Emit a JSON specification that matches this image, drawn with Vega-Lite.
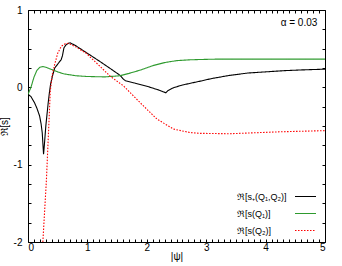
{
  "$schema": "https://vega.github.io/schema/vega-lite/v6.json",
  "width": 297,
  "height": 232,
  "autosize": {"type": "none"},
  "padding": {"left": 28, "top": 10, "right": 17, "bottom": 24},
  "background": "white",
  "config": {
    "view": {"stroke": "black", "strokeWidth": 1},
    "font": "Liberation Sans",
    "axis": {"domain": false, "grid": false, "ticks": true, "tickColor": "black", "tickSize": -3, "labelFont": "Liberation Sans", "labelFontSize": 10, "labelColor": "black", "titleFont": "Liberation Sans", "titleFontSize": 10, "titleFontWeight": "normal", "titleColor": "black"}
  },
  "datasets": {
    "curves": [
      {"s": "ℜ[s₊(Q₁,Q₂)]", "x": 0.0, "y": -0.09},
      {"s": "ℜ[s₊(Q₁,Q₂)]", "x": 0.05, "y": -0.12},
      {"s": "ℜ[s₊(Q₁,Q₂)]", "x": 0.11, "y": -0.2},
      {"s": "ℜ[s₊(Q₁,Q₂)]", "x": 0.15, "y": -0.27},
      {"s": "ℜ[s₊(Q₁,Q₂)]", "x": 0.195, "y": -0.37},
      {"s": "ℜ[s₊(Q₁,Q₂)]", "x": 0.22, "y": -0.47},
      {"s": "ℜ[s₊(Q₁,Q₂)]", "x": 0.24, "y": -0.59},
      {"s": "ℜ[s₊(Q₁,Q₂)]", "x": 0.255, "y": -0.78},
      {"s": "ℜ[s₊(Q₁,Q₂)]", "x": 0.262, "y": -0.865},
      {"s": "ℜ[s₊(Q₁,Q₂)]", "x": 0.275, "y": -0.75},
      {"s": "ℜ[s₊(Q₁,Q₂)]", "x": 0.3, "y": -0.5},
      {"s": "ℜ[s₊(Q₁,Q₂)]", "x": 0.34, "y": -0.2},
      {"s": "ℜ[s₊(Q₁,Q₂)]", "x": 0.36, "y": -0.07},
      {"s": "ℜ[s₊(Q₁,Q₂)]", "x": 0.38, "y": 0.04},
      {"s": "ℜ[s₊(Q₁,Q₂)]", "x": 0.41, "y": 0.14},
      {"s": "ℜ[s₊(Q₁,Q₂)]", "x": 0.45, "y": 0.25},
      {"s": "ℜ[s₊(Q₁,Q₂)]", "x": 0.5, "y": 0.3},
      {"s": "ℜ[s₊(Q₁,Q₂)]", "x": 0.56, "y": 0.36},
      {"s": "ℜ[s₊(Q₁,Q₂)]", "x": 0.58, "y": 0.41},
      {"s": "ℜ[s₊(Q₁,Q₂)]", "x": 0.605, "y": 0.51},
      {"s": "ℜ[s₊(Q₁,Q₂)]", "x": 0.64, "y": 0.55},
      {"s": "ℜ[s₊(Q₁,Q₂)]", "x": 0.68, "y": 0.57},
      {"s": "ℜ[s₊(Q₁,Q₂)]", "x": 0.71, "y": 0.575},
      {"s": "ℜ[s₊(Q₁,Q₂)]", "x": 0.8, "y": 0.54},
      {"s": "ℜ[s₊(Q₁,Q₂)]", "x": 1.0, "y": 0.44},
      {"s": "ℜ[s₊(Q₁,Q₂)]", "x": 1.2, "y": 0.34},
      {"s": "ℜ[s₊(Q₁,Q₂)]", "x": 1.4, "y": 0.235},
      {"s": "ℜ[s₊(Q₁,Q₂)]", "x": 1.55, "y": 0.155},
      {"s": "ℜ[s₊(Q₁,Q₂)]", "x": 1.6, "y": 0.11},
      {"s": "ℜ[s₊(Q₁,Q₂)]", "x": 1.64, "y": 0.085},
      {"s": "ℜ[s₊(Q₁,Q₂)]", "x": 1.8, "y": 0.055},
      {"s": "ℜ[s₊(Q₁,Q₂)]", "x": 2.0, "y": 0.015},
      {"s": "ℜ[s₊(Q₁,Q₂)]", "x": 2.2, "y": -0.035},
      {"s": "ℜ[s₊(Q₁,Q₂)]", "x": 2.32, "y": -0.07},
      {"s": "ℜ[s₊(Q₁,Q₂)]", "x": 2.36, "y": -0.04},
      {"s": "ℜ[s₊(Q₁,Q₂)]", "x": 2.45, "y": -0.005},
      {"s": "ℜ[s₊(Q₁,Q₂)]", "x": 2.6, "y": 0.03},
      {"s": "ℜ[s₊(Q₁,Q₂)]", "x": 2.9, "y": 0.08},
      {"s": "ℜ[s₊(Q₁,Q₂)]", "x": 3.1, "y": 0.115},
      {"s": "ℜ[s₊(Q₁,Q₂)]", "x": 3.4, "y": 0.155},
      {"s": "ℜ[s₊(Q₁,Q₂)]", "x": 3.7, "y": 0.185},
      {"s": "ℜ[s₊(Q₁,Q₂)]", "x": 4.0, "y": 0.2},
      {"s": "ℜ[s₊(Q₁,Q₂)]", "x": 4.3, "y": 0.215},
      {"s": "ℜ[s₊(Q₁,Q₂)]", "x": 4.6, "y": 0.225},
      {"s": "ℜ[s₊(Q₁,Q₂)]", "x": 5.0, "y": 0.235},
      {"s": "ℜ[s(Q₁)]", "x": 0.0, "y": -0.09},
      {"s": "ℜ[s(Q₁)]", "x": 0.05, "y": 0.0},
      {"s": "ℜ[s(Q₁)]", "x": 0.1, "y": 0.13},
      {"s": "ℜ[s(Q₁)]", "x": 0.15, "y": 0.22},
      {"s": "ℜ[s(Q₁)]", "x": 0.2, "y": 0.26},
      {"s": "ℜ[s(Q₁)]", "x": 0.25, "y": 0.27},
      {"s": "ℜ[s(Q₁)]", "x": 0.3, "y": 0.26},
      {"s": "ℜ[s(Q₁)]", "x": 0.4, "y": 0.23},
      {"s": "ℜ[s(Q₁)]", "x": 0.5, "y": 0.2},
      {"s": "ℜ[s(Q₁)]", "x": 0.6, "y": 0.175},
      {"s": "ℜ[s(Q₁)]", "x": 0.8, "y": 0.15},
      {"s": "ℜ[s(Q₁)]", "x": 1.0, "y": 0.14},
      {"s": "ℜ[s(Q₁)]", "x": 1.3, "y": 0.135},
      {"s": "ℜ[s(Q₁)]", "x": 1.55, "y": 0.15},
      {"s": "ℜ[s(Q₁)]", "x": 1.7, "y": 0.18},
      {"s": "ℜ[s(Q₁)]", "x": 1.9, "y": 0.225},
      {"s": "ℜ[s(Q₁)]", "x": 2.1, "y": 0.28},
      {"s": "ℜ[s(Q₁)]", "x": 2.3, "y": 0.32},
      {"s": "ℜ[s(Q₁)]", "x": 2.5, "y": 0.345},
      {"s": "ℜ[s(Q₁)]", "x": 2.7, "y": 0.355},
      {"s": "ℜ[s(Q₁)]", "x": 2.9, "y": 0.36},
      {"s": "ℜ[s(Q₁)]", "x": 3.2, "y": 0.365},
      {"s": "ℜ[s(Q₁)]", "x": 4.0, "y": 0.365},
      {"s": "ℜ[s(Q₁)]", "x": 5.0, "y": 0.365},
      {"s": "ℜ[s(Q₂)]", "x": 0.25, "y": -2.0},
      {"s": "ℜ[s(Q₂)]", "x": 0.28, "y": -1.6},
      {"s": "ℜ[s(Q₂)]", "x": 0.31, "y": -1.2},
      {"s": "ℜ[s(Q₂)]", "x": 0.33, "y": -0.85},
      {"s": "ℜ[s(Q₂)]", "x": 0.35, "y": -0.5},
      {"s": "ℜ[s(Q₂)]", "x": 0.375, "y": -0.05},
      {"s": "ℜ[s(Q₂)]", "x": 0.41, "y": 0.17},
      {"s": "ℜ[s(Q₂)]", "x": 0.45, "y": 0.3},
      {"s": "ℜ[s(Q₂)]", "x": 0.5, "y": 0.44},
      {"s": "ℜ[s(Q₂)]", "x": 0.56, "y": 0.53},
      {"s": "ℜ[s(Q₂)]", "x": 0.63, "y": 0.565},
      {"s": "ℜ[s(Q₂)]", "x": 0.68, "y": 0.57},
      {"s": "ℜ[s(Q₂)]", "x": 0.81, "y": 0.52},
      {"s": "ℜ[s(Q₂)]", "x": 0.98, "y": 0.44},
      {"s": "ℜ[s(Q₂)]", "x": 1.2, "y": 0.28},
      {"s": "ℜ[s(Q₂)]", "x": 1.38, "y": 0.146},
      {"s": "ℜ[s(Q₂)]", "x": 1.61, "y": 0.017},
      {"s": "ℜ[s(Q₂)]", "x": 1.89, "y": -0.2},
      {"s": "ℜ[s(Q₂)]", "x": 2.17, "y": -0.41},
      {"s": "ℜ[s(Q₂)]", "x": 2.45, "y": -0.54},
      {"s": "ℜ[s(Q₂)]", "x": 2.73, "y": -0.585},
      {"s": "ℜ[s(Q₂)]", "x": 2.9, "y": -0.595},
      {"s": "ℜ[s(Q₂)]", "x": 3.4, "y": -0.6},
      {"s": "ℜ[s(Q₂)]", "x": 4.24, "y": -0.575},
      {"s": "ℜ[s(Q₂)]", "x": 5.0, "y": -0.56}
    ],
    "note": [{"label": "α = 0.03"}]
  },
  "layer": [
    {
      "mark": {"type": "rule", "color": "#c8c8c8", "strokeWidth": 1},
      "encoding": {"y": {"datum": 0, "type": "quantitative", "scale": {"domain": [-2, 1]}, "axis": null}}
    },
    {
      "data": {"name": "curves"},
      "mark": {"type": "line", "clip": true, "interpolate": "linear"},
      "encoding": {
        "x": {"field": "x", "type": "quantitative", "scale": {"domain": [0, 5], "nice": false, "zero": false},
          "axis": {"orient": "bottom", "title": "|ψ|", "titlePadding": -1, "labelPadding": 3,
            "values": [0,0.1,0.2,0.3,0.4,0.5,0.6,0.7,0.8,0.9,1,1.1,1.2,1.3,1.4,1.5,1.6,1.7,1.8,1.9,2,2.1,2.2,2.3,2.4,2.5,2.6,2.7,2.8,2.9,3,3.1,3.2,3.3,3.4,3.5,3.6,3.7,3.8,3.9,4,4.1,4.2,4.3,4.4,4.5,4.6,4.7,4.8,4.9,5],
            "labelExpr": "abs(datum.value - round(datum.value)) < 0.001 ? '' + round(datum.value) : ''"}},
        "y": {"field": "y", "type": "quantitative", "scale": {"domain": [-2, 1], "nice": false, "zero": false},
          "axis": {"orient": "left", "title": "ℜ[s]", "titlePadding": 4, "labelPadding": 9,
            "values": [-2,-1.75,-1.5,-1.25,-1,-0.75,-0.5,-0.25,0,0.25,0.5,0.75,1],
            "labelExpr": "abs(datum.value - round(datum.value)) < 0.001 ? '' + round(datum.value) : ''"}},
        "color": {"field": "s", "type": "nominal",
          "scale": {"domain": ["ℜ[s₊(Q₁,Q₂)]", "ℜ[s(Q₁)]", "ℜ[s(Q₂)]"], "range": ["#000000", "#2e9a2e", "#ff0000"]},
          "legend": {"orient": "none", "legendX": 208, "legendY": 175, "title": null, "symbolType": "stroke", "symbolSize": 441, "symbolStrokeWidth": 1.2, "symbolOffset": 58, "labelOffset": -80, "labelFontSize": 9, "labelFont": "Liberation Sans", "labelColor": "black", "rowPadding": -5, "padding": 0}},
        "strokeDash": {"field": "s", "type": "nominal",
          "scale": {"domain": ["ℜ[s₊(Q₁,Q₂)]", "ℜ[s(Q₁)]", "ℜ[s(Q₂)]"], "range": [[1, 0], [1, 0], [1.5, 1.5]]}, "legend": null},
        "strokeWidth": {"value": 1.1}
      }
    },
    {
      "data": {"name": "curves"},
      "mark": {"type": "line", "opacity": 0},
      "encoding": {
        "x": {"field": "x", "type": "quantitative", "axis": {"orient": "top", "title": null, "labels": false,
          "values": [0,0.1,0.2,0.3,0.4,0.5,0.6,0.7,0.8,0.9,1,1.1,1.2,1.3,1.4,1.5,1.6,1.7,1.8,1.9,2,2.1,2.2,2.3,2.4,2.5,2.6,2.7,2.8,2.9,3,3.1,3.2,3.3,3.4,3.5,3.6,3.7,3.8,3.9,4,4.1,4.2,4.3,4.4,4.5,4.6,4.7,4.8,4.9,5]}},
        "y": {"field": "y", "type": "quantitative", "axis": {"orient": "right", "title": null, "labels": false,
          "values": [-2,-1.75,-1.5,-1.25,-1,-0.75,-0.5,-0.25,0,0.25,0.5,0.75,1]}},
        "detail": {"field": "s", "type": "nominal"}
      }
    },
    {
      "data": {"name": "note"},
      "mark": {"type": "text", "align": "right", "baseline": "middle", "fontSize": 10, "font": "Liberation Sans", "color": "black"},
      "encoding": {
        "x": {"datum": 4.87, "type": "quantitative", "axis": null},
        "y": {"datum": 0.83, "type": "quantitative", "axis": null},
        "text": {"field": "label", "type": "nominal"}
      }
    }
  ],
  "resolve": {"axis": {"x": "independent", "y": "independent"}}
}
